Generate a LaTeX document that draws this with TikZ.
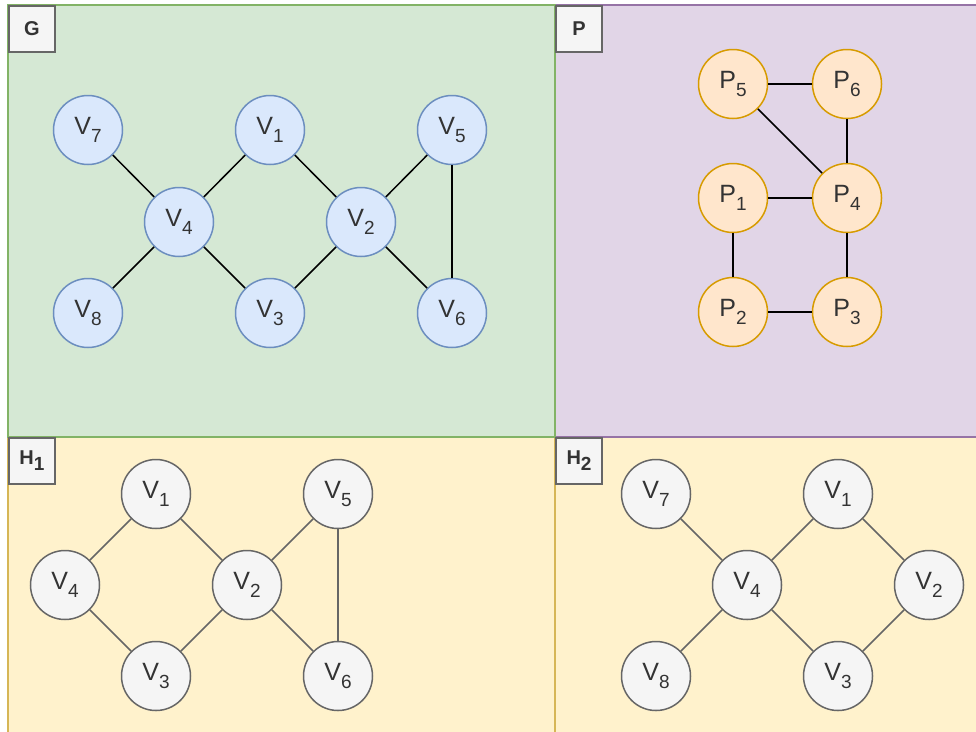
\documentclass[tikz,border=0pt]{standalone}
\usepackage{fontspec}
\setmainfont{Liberation Sans}
\usetikzlibrary{positioning}
\definecolor{gfill}{HTML}{D5E8D4}
\definecolor{gline}{HTML}{82B366}
\definecolor{pfill}{HTML}{E1D5E7}
\definecolor{pline}{HTML}{9673A6}
\definecolor{hfill}{HTML}{FFF2CC}
\definecolor{hline}{HTML}{D6B656}
\definecolor{vfill}{HTML}{DAE8FC}
\definecolor{vline}{HTML}{6C8EBF}
\definecolor{ofill}{HTML}{FFE6CC}
\definecolor{oline}{HTML}{D79B00}
\definecolor{nfill}{HTML}{F5F5F5}
\definecolor{nline}{HTML}{666666}
\definecolor{ntext}{HTML}{333333}
\newcommand{\sub}[1]{\raisebox{-0.55ex}{\fontsize{19}{19}\selectfont #1}}
\tikzstyle{panel} = [line width=2pt]
\tikzstyle{tag} = [rectangle, anchor=north west, minimum size=46pt, inner sep=0pt, fill=nfill, draw=nline, line width=2pt, text=ntext, font=\bfseries\fontsize{20}{20}\selectfont]
\tikzstyle{base} = [circle, minimum size=69pt, inner sep=0pt, line width=1.5pt, font=\fontsize{25}{25}\selectfont]
\tikzstyle{vnode} = [base, fill=vfill, draw=vline, text=ntext]
\tikzstyle{pnode} = [base, fill=ofill, draw=oline, text=ntext]
\tikzstyle{hnode} = [base, fill=nfill, draw=nline, text=ntext]
\tikzstyle{link} = [line width=1.5pt, draw=black]
\tikzstyle{hlink} = [line width=1.5pt, draw=nline]

\begin{document}
\begin{tikzpicture}[x=1pt, y=-1pt]
		\useasboundingbox (0,0) rectangle (976,731);
		%panels
		\draw[panel, draw=hline, fill=hfill] (8,437) rectangle (555,740);
		\draw[panel, draw=hline, fill=hfill] (555,437) rectangle (985,740);
		\draw[panel, draw=pline, fill=pfill] (555,5) rectangle (985,437);
		\draw[panel, draw=gline, fill=gfill] (8,5) rectangle (555,437);
		\node[tag] (tagG) at (8,5) {G};
		\node[tag] (tagP) at (555,5) {P};
		\node[tag] (tagH1) at (8,437) {H\sub{1}};
		\node[tag] (tagH2) at (555,437) {H\sub{2}};
		%graph G
		\node[vnode] (g7) at (88,130) {V\sub{7}};
		\node[vnode] (g1) at (270,130) {V\sub{1}};
		\node[vnode] (g5) at (452,130) {V\sub{5}};
		\node[vnode] (g4) at (179,222) {V\sub{4}};
		\node[vnode] (g2) at (361,222) {V\sub{2}};
		\node[vnode] (g8) at (88,313) {V\sub{8}};
		\node[vnode] (g3) at (270,313) {V\sub{3}};
		\node[vnode] (g6) at (452,313) {V\sub{6}};
		\draw[link] (g7) -- (g4);
		\draw[link] (g8) -- (g4);
		\draw[link] (g4) -- (g1);
		\draw[link] (g4) -- (g3);
		\draw[link] (g1) -- (g2);
		\draw[link] (g3) -- (g2);
		\draw[link] (g2) -- (g5);
		\draw[link] (g2) -- (g6);
		\draw[link] (g5) -- (g6);
		%graph P
		\node[pnode] (p5) at (733,84) {P\sub{5}};
		\node[pnode] (p6) at (847,84) {P\sub{6}};
		\node[pnode] (p1) at (733,198) {P\sub{1}};
		\node[pnode] (p4) at (847,198) {P\sub{4}};
		\node[pnode] (p2) at (733,312) {P\sub{2}};
		\node[pnode] (p3) at (847,312) {P\sub{3}};
		\draw[link] (p5) -- (p6);
		\draw[link] (p5) -- (p4);
		\draw[link] (p6) -- (p4);
		\draw[link] (p1) -- (p4);
		\draw[link] (p1) -- (p2);
		\draw[link] (p4) -- (p3);
		\draw[link] (p2) -- (p3);
		%graph H1
		\node[hnode] (a1) at (156,494) {V\sub{1}};
		\node[hnode] (a5) at (338,494) {V\sub{5}};
		\node[hnode] (a4) at (65,585) {V\sub{4}};
		\node[hnode] (a2) at (247,585) {V\sub{2}};
		\node[hnode] (a3) at (156,676) {V\sub{3}};
		\node[hnode] (a6) at (338,676) {V\sub{6}};
		\draw[hlink] (a4) -- (a1);
		\draw[hlink] (a4) -- (a3);
		\draw[hlink] (a1) -- (a2);
		\draw[hlink] (a3) -- (a2);
		\draw[hlink] (a2) -- (a5);
		\draw[hlink] (a2) -- (a6);
		\draw[hlink] (a5) -- (a6);
		%graph H2
		\node[hnode] (b7) at (656,494) {V\sub{7}};
		\node[hnode] (b1) at (838,494) {V\sub{1}};
		\node[hnode] (b4) at (747,585) {V\sub{4}};
		\node[hnode] (b2) at (929,585) {V\sub{2}};
		\node[hnode] (b8) at (656,676) {V\sub{8}};
		\node[hnode] (b3) at (838,676) {V\sub{3}};
		\draw[hlink] (b7) -- (b4);
		\draw[hlink] (b8) -- (b4);
		\draw[hlink] (b4) -- (b1);
		\draw[hlink] (b4) -- (b3);
		\draw[hlink] (b1) -- (b2);
		\draw[hlink] (b3) -- (b2);
	\end{tikzpicture}
\end{document}
